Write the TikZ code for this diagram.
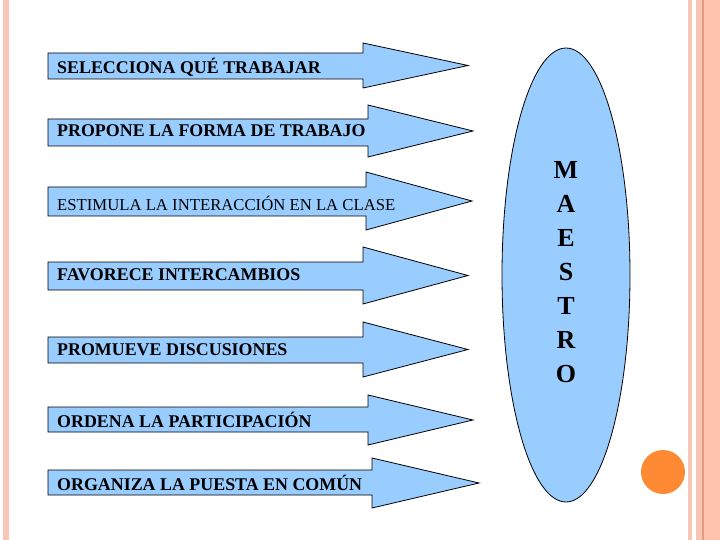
\documentclass[tikz,border=0pt]{standalone}
\usepackage{fontspec}
\setmainfont{Liberation Serif}
\definecolor{arrfill}{HTML}{99CCFF}
\definecolor{bord}{HTML}{F8C6B4}
\definecolor{bordb}{HTML}{FFC3AE}
\definecolor{bordline}{HTML}{E39C7E}
\definecolor{dot}{HTML}{FF8A33}
\tikzset{
  arr/.style={draw=black, line width=0.8pt, fill=arrfill, line join=miter},
  lbl/.style={anchor=west, inner sep=0pt, font=\bfseries\fontsize{17.9}{20}\selectfont},
  lblthin/.style={anchor=west, inner sep=0pt, font=\fontsize{16.7}{19}\selectfont},
}
% #1 top #2 bottom #3 notch x #4 head top #5 head bottom #6 tip x
\newcommand\myarrow[6]{%
  \path[arr] (48,#1) -- (#3,#1) -- (#3,#4) -- (#6,{(#4+#5)/2}) -- (#3,#5) -- (#3,#2) -- (48,#2) -- cycle;}
\begin{document}
\begin{tikzpicture}[x=1pt,y=-1pt]
\useasboundingbox (0,0) rectangle (720,540);
\fill[white] (0,0) rectangle (720,540);
% borders
\fill[bord] (3,0) rectangle (9,540);
\fill[bord] (688,0) rectangle (692,540);
\fill[bord] (696,0) rectangle (702,540);
\fill[bordline] (702,0) rectangle (703.5,540);
\fill[bordb] (703.5,0) rectangle (720,540);
% arrows
\myarrow{53}{79}{363}{43}{88}{468}
\node[lbl] (a1) at (57,67) {SELECCIONA QUÉ TRABAJAR};
\myarrow{119}{146}{368}{105}{157}{473}
\node[lbl] (a2) at (57,131) {PROPONE LA FORMA DE TRABAJO};
\myarrow{187}{216}{366}{172}{230}{472}
\node[lblthin] (a3) at (57,203) {ESTIMULA LA INTERACCIÓN EN LA CLASE};
\myarrow{262}{290}{363}{247}{304}{468}
\node[lbl] (a4) at (57,275) {FAVORECE INTERCAMBIOS};
\myarrow{337}{363}{363}{322}{377}{468}
\node[lbl] (a5) at (57,350) {PROMUEVE DISCUSIONES};
\myarrow{407}{432}{368}{395}{445}{473}
\node[lbl] (a6) at (57,420) {ORDENA LA PARTICIPACIÓN};
\myarrow{470}{495}{372}{458}{508}{479}
\node[lbl] (a7) at (57,483) {ORGANIZA LA PUESTA EN COMÚN};
% ellipse
\draw[fill=arrfill, line width=0.8pt] (566,275) ellipse [x radius=64, y radius=227];
\node[align=center, inner sep=0pt, font=\bfseries\fontsize{26}{34}\selectfont] (maestro) at (566,272) {M\\A\\E\\S\\T\\R\\O};
% orange dot
\fill[dot] (663,472) circle (22);
\end{tikzpicture}
\end{document}
